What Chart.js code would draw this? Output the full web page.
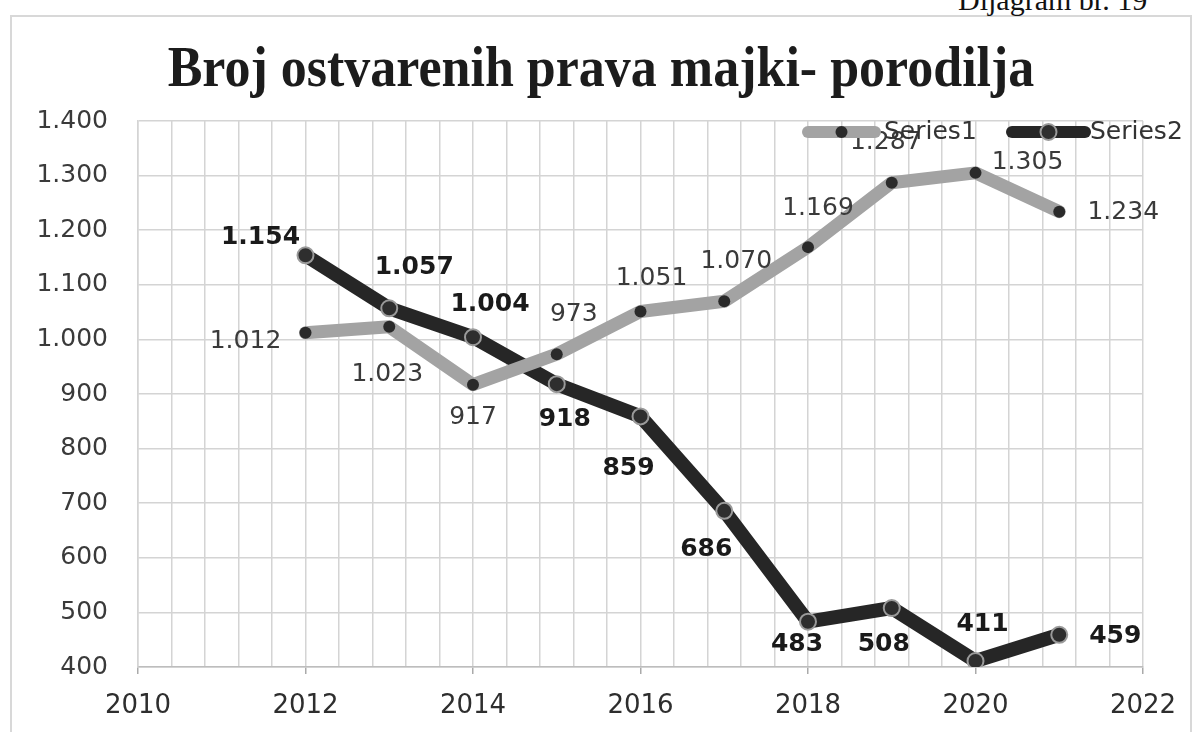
<!DOCTYPE html>
<html>
<head>
<meta charset="utf-8">
<script src="https://cdn.jsdelivr.net/npm/chart.js@4.4.1/dist/chart.umd.min.js"></script>
<style>
  html, body { margin: 0; padding: 0; background: #fff; }
  #wrap    { position: relative; width: 1202px; height: 732px; overflow: hidden; }
  #frame   { position: absolute; left: 10px; top: 15px; width: 1182px; height: 740px; border: 2px solid #d8d8d8; box-sizing: border-box; }
  #caption { position: absolute; left: 958px; top: -15px; font: 30px/30px "Liberation Serif", serif; color: #111; white-space: nowrap; }
  #title   { position: absolute; left: 0; top: 40px; width: 1202px; text-align: center; font: bold 52px/56px "Liberation Serif", serif; color: #1c1c1c; transform: scaleY(1.08); white-space: nowrap; }
  #chart   { position: absolute; left: 0; top: 0; }
</style>
</head>
<body>
<div id="wrap">
  <div id="frame"></div>
  <div id="caption">Dijagram br. 19</div>
  <canvas id="chart" width="1202" height="732"></canvas>
  <div id="title">Broj ostvarenih prava majki- porodilja</div>
</div>
<script>
// data
const years       = [2012, 2013, 2014, 2015, 2016, 2017, 2018, 2019, 2020, 2021];
const series1     = [1012, 1023, 917, 973, 1051, 1070, 1169, 1287, 1305, 1234];
const series2     = [1154, 1057, 1004, 918, 859, 686, 483, 508, 411, 459];
const seriesNames = ["Series1", "Series2"];
const xTicks      = [2010, 2012, 2014, 2016, 2018, 2020, 2022];
const yTicks      = [400, 500, 600, 700, 800, 900, 1000, 1100, 1200, 1300, 1400];

document.addEventListener("DOMContentLoaded", () => {
  const ctx = document.getElementById("chart").getContext("2d");

  const fmt = v => v >= 1000
    ? Math.floor(v / 1000) + "." + String(v % 1000).padStart(3, "0")
    : String(v);

  const isMajor = v => xTicks.some(t => Math.abs(t - v) < 1e-6);

  // where each value label sits relative to its point (dx, dy of label centre)
  const labelOffsets = [
    [[-60, 9], [-2, 48], [0, 33], [17, -40], [11, -33], [12, -40], [10, -39], [-6, -40], [52, -10], [64, 1]],
    [[-45, -18], [25, -41], [17, -33], [8, 35], [-12, 52], [-18, 39], [-11, 23], [-8, 36], [7, -36], [56, 2]]
  ];
  const labelFonts  = ["25px 'DejaVu Sans'", "bold 25px 'DejaVu Sans'"];
  const labelColors = ["#3a3a3a", "#1a1a1a"];

  const valueLabels = {
    id: "valueLabels",
    afterDatasetsDraw(chart) {
      const c = chart.ctx;
      c.save();
      c.textAlign = "center";
      c.textBaseline = "middle";
      chart.data.datasets.forEach((ds, di) => {
        const meta = chart.getDatasetMeta(di);
        c.font = labelFonts[di];
        c.fillStyle = labelColors[di];
        meta.data.forEach((pt, i) => {
          const [dx, dy] = labelOffsets[di][i];
          c.fillText(fmt(ds.data[i].y), pt.x + dx, pt.y + dy);
        });
      });
      c.restore();
    }
  };

  // legend sits inside the plot, top right
  const insideLegend = {
    id: "insideLegend",
    afterDraw(chart) {
      const c  = chart.ctx;
      const ca = chart.chartArea;
      const y  = ca.top + 11;
      const items = [
        { x0: ca.right - 335, x1: ca.right - 268, tx: ca.right - 259, ds: chart.data.datasets[0] },
        { x0: ca.right - 131, x1: ca.right - 58,  tx: ca.right - 53,  ds: chart.data.datasets[1] }
      ];
      c.save();
      items.forEach(it => {
        c.strokeStyle = it.ds.borderColor;
        c.lineWidth = 12;
        c.lineCap = "round";
        c.beginPath();
        c.moveTo(it.x0, y);
        c.lineTo(it.x1, y);
        c.stroke();
        c.beginPath();
        c.arc((it.x0 + it.x1) / 2, y, it.ds.pointRadius, 0, Math.PI * 2);
        c.fillStyle = it.ds.pointBackgroundColor;
        c.fill();
        if (it.ds.pointBorderWidth) {
          c.lineWidth = it.ds.pointBorderWidth;
          c.strokeStyle = it.ds.pointBorderColor;
          c.stroke();
        }
        c.font = "25px 'DejaVu Sans'";
        c.fillStyle = "#333";
        c.textAlign = "left";
        c.textBaseline = "middle";
        c.fillText(it.ds.label, it.tx, y);
      });
      c.restore();
    }
  };

  new Chart(ctx, {
    type: "scatter",
    data: {
      datasets: [
        {
          label: seriesNames[0],
          data: years.map((x, i) => ({ x, y: series1[i] })),
          showLine: true,
          borderColor: "#a3a3a3",
          borderWidth: 13,
          borderJoinStyle: "round",
          borderCapStyle: "round",
          pointRadius: 6,
          pointBackgroundColor: "#2a2a2a",
          pointBorderWidth: 0,
          pointBorderColor: "#2a2a2a"
        },
        {
          label: seriesNames[1],
          data: years.map((x, i) => ({ x, y: series2[i] })),
          showLine: true,
          borderColor: "#262626",
          borderWidth: 14,
          borderJoinStyle: "round",
          borderCapStyle: "round",
          pointRadius: 8,
          pointBackgroundColor: "#2e2e2e",
          pointBorderWidth: 2,
          pointBorderColor: "#9a9a9a"
        }
      ]
    },
    options: {
      responsive: false,
      animation: false,
      devicePixelRatio: 1,
      layout: { padding: { top: 121, right: 59, left: 0, bottom: 0 } },
      plugins: {
        legend:  { display: false },
        tooltip: { enabled: false }
      },
      scales: {
        x: {
          type: "linear",
          min: xTicks[0],
          max: xTicks[xTicks.length - 1],
          afterFit: s => { s.height = 65; },
          border: { color: "#bdbdbd", width: 1.5 },
          grid: {
            color: "#d4d4d4",
            lineWidth: 1.5,
            tickLength: 7,
            tickColor: c => (c.tick && isMajor(c.tick.value)) ? "#aaa" : "rgba(0,0,0,0)"
          },
          ticks: {
            stepSize: 0.4,
            autoSkip: false,
            maxRotation: 0,
            padding: 17,
            color: "#2e2e2e",
            font: { family: "DejaVu Sans", size: 26 },
            callback: v => isMajor(v) ? String(Math.round(v)) : ""
          }
        },
        y: {
          min: yTicks[0],
          max: yTicks[yTicks.length - 1],
          afterFit: s => { s.width = 138; },
          border: { color: "#d4d4d4", width: 1.5 },
          grid: { color: "#d4d4d4", lineWidth: 1.5, drawTicks: false },
          ticks: {
            stepSize: 100,
            padding: 30,
            color: "#3a3a3a",
            font: { family: "DejaVu Sans", size: 25 },
            callback: v => fmt(v)
          }
        }
      }
    },
    plugins: [valueLabels, insideLegend]
  });
});
</script>
</body>
</html>
